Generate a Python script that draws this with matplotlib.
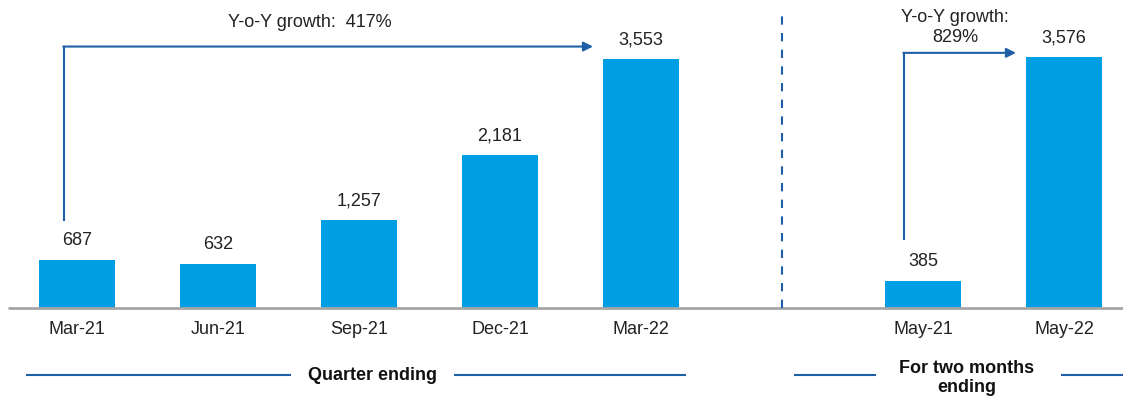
import matplotlib
matplotlib.use("Agg")
import matplotlib.pyplot as plt
import matplotlib.transforms as mtransforms

plt.rcParams["font.family"] = ["Liberation Sans", "DejaVu Sans"]

quarters = ["Mar-21", "Jun-21", "Sep-21", "Dec-21", "Mar-22"]
quarter_values = [687, 632, 1257, 2181, 3553]
months = ["May-21", "May-22"]
month_values = [385, 3576]
growth_quarter = "Y-o-Y growth:  417%"
growth_month = "Y-o-Y growth:\n829%"

BAR = "#009FE3"
LINE = "#1F5FA8"
FS = 13

W, H = 1123, 400
fig = plt.figure(figsize=(W / 100, H / 100), dpi=100)
ax = fig.add_axes([0, 0.23, 1, 0.77])

q_pos = list(range(len(quarters)))
m_pos = [len(quarters) + 1 + i for i in range(len(months))]
ax.bar(q_pos, quarter_values, width=0.54, color=BAR)
ax.bar(m_pos, month_values, width=0.54, color=BAR)

x0, step = 77, 141
ax.set_xlim(-x0 / step, (W - x0) / step)
ax.set_ylim(0, 4394)
ax.axis("off")

def px(x):
    return (x - x0) / step

for p, v in zip(q_pos + m_pos, quarter_values + month_values):
    ax.text(p, v + 150, f"{v:,}", ha="center", va="bottom", fontsize=FS, color="#222222")

# baseline
ax.plot([px(8), px(W)], [0, 0], color="#A6A6A6", lw=2, solid_capstyle="butt", clip_on=False)

# separator
ax.plot([len(quarters), len(quarters)], [0, 4180], color=LINE, lw=1.5,
        linestyle=(0, (4, 4)), clip_on=False)

# growth arrows
ax.plot([px(64), px(64)], [1260, 3730], color=LINE, lw=1.5)
ax.annotate("", xy=(px(593), 3730), xytext=(px(63.3), 3730),
            arrowprops=dict(arrowstyle="-|>", color=LINE, lw=1.5, mutation_scale=14,
                            shrinkA=0, shrinkB=0))
ax.text(px(310), 3950, growth_quarter, ha="center", va="bottom", fontsize=FS, color="#222222")

ax.plot([px(904), px(904)], [980, 3640], color=LINE, lw=1.5)
ax.annotate("", xy=(px(1016), 3640), xytext=(px(903.3), 3640),
            arrowprops=dict(arrowstyle="-|>", color=LINE, lw=1.5, mutation_scale=14,
                            shrinkA=0, shrinkB=0))
ax.text(px(955), 3740, growth_month, ha="center", va="bottom", fontsize=FS,
        color="#222222", linespacing=1.25)

# category labels
trans = mtransforms.blended_transform_factory(ax.transData, fig.transFigure)
for p, lab in zip(q_pos + m_pos, quarters + months):
    ax.text(p, 1 - 330 / H, lab, transform=trans, ha="center", va="center",
            fontsize=FS, color="#222222")

# group labels
yl = 1 - 375 / H
for a, b in [(27, 290), (455, 685), (795, 875), (1062, W)]:
    ax.plot([px(a), px(b)], [yl, yl], transform=trans, color=LINE, lw=1.5,
            clip_on=False)
ax.text(px(372), yl, "Quarter ending", transform=trans, ha="center", va="center",
        fontsize=FS, fontweight="bold", color="#111111")
ax.text(px(967), 1 - 378 / H, "For two months\nending", transform=trans, ha="center",
        va="center", fontsize=FS, fontweight="bold", color="#111111", linespacing=1.15)

fig.savefig("out.png", dpi=100)
